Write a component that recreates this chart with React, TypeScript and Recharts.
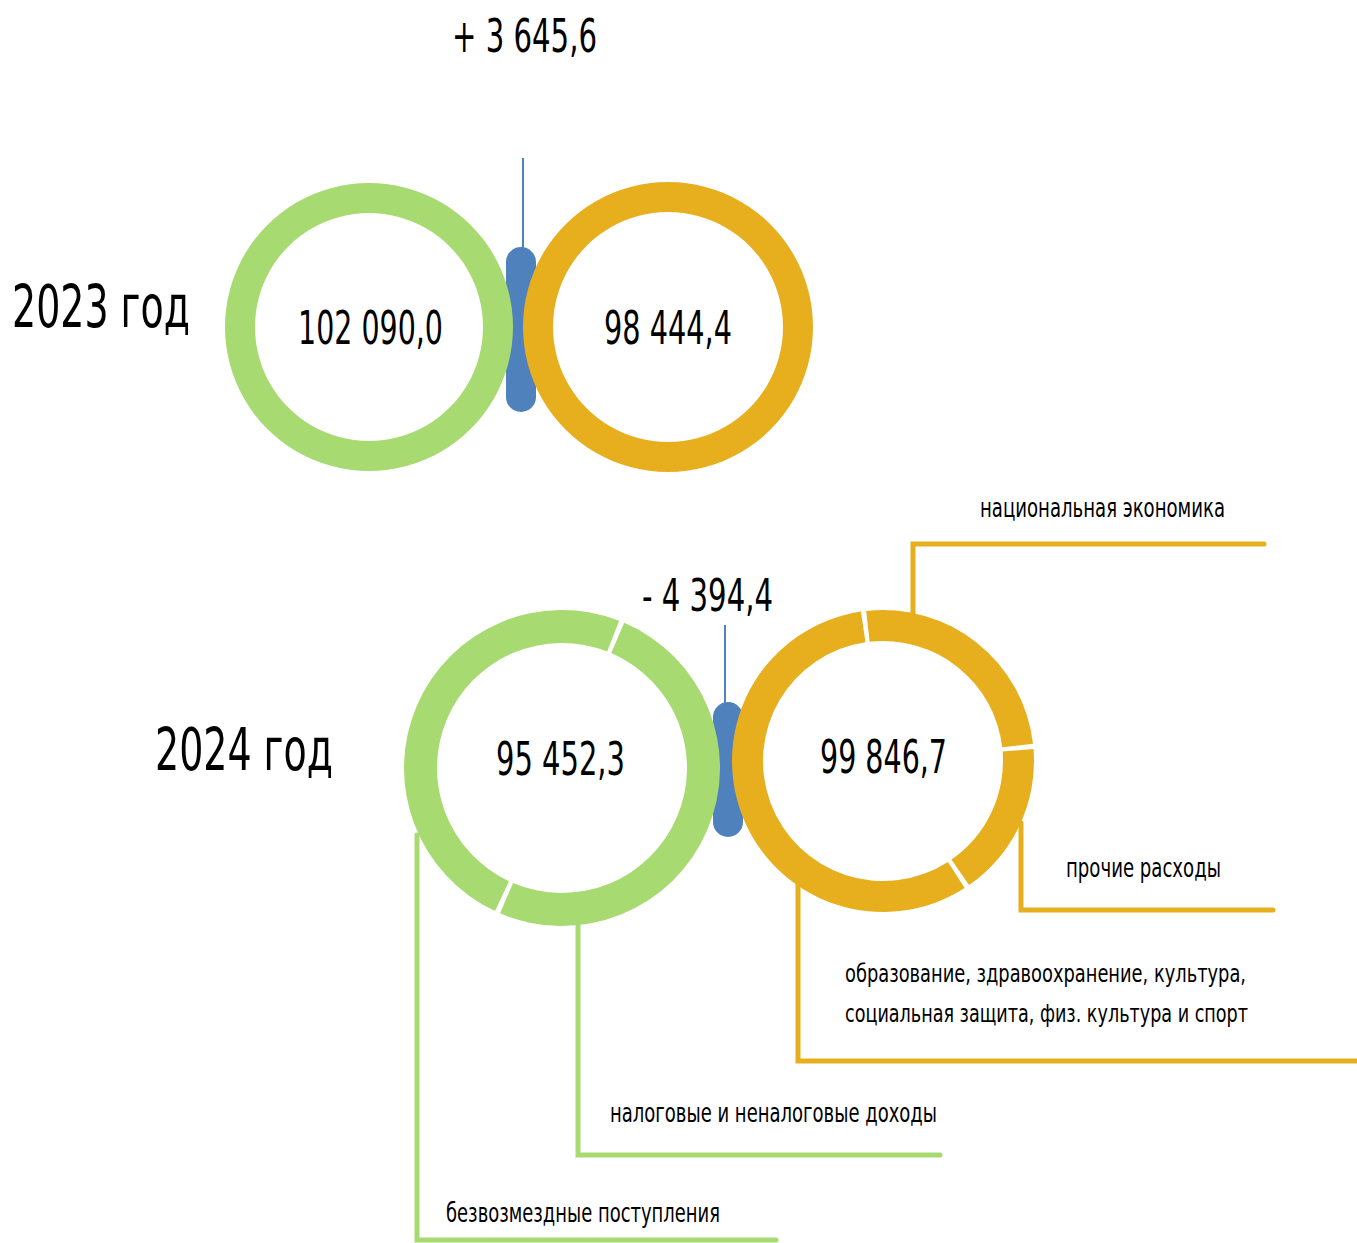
import { PieChart, Pie, Cell } from "recharts";

const W = 1357;
const H = 1243;

const GREEN = "#A8DA72";
const ORANGE = "#E7AF1E";
const BLUE = "#4F81BD";
const FONT = "'Liberation Sans Narrow', 'DejaVu Sans Condensed', 'Liberation Sans', sans-serif";

// data
const years = ["2023 год", "2024 год"];
const income2023 = [{ name: "доходы", value: 102090.0 }];
const expense2023 = [{ name: "расходы", value: 98444.4 }];
const income2024 = [
  { name: "налоговые и неналоговые доходы", value: 48230.0 },
  { name: "безвозмездные поступления", value: 47222.3 },
];
const expense2024 = [
  { name: "национальная экономика", value: 25350.0 },
  { name: "прочие расходы", value: 16860.0 },
  {
    name: "образование, здравоохранение, культура, социальная защита, физ. культура и спорт",
    value: 57636.7,
  },
];

const total = (rows: { value: number }[]) =>
  Math.round(rows.reduce((s, r) => s + r.value, 0) * 10) / 10;
const fmt = (v: number) =>
  v.toLocaleString("ru-RU", { minimumFractionDigits: 1, maximumFractionDigits: 1 });
const fmtDelta = (v: number) => (v >= 0 ? "+ " : "- ") + fmt(Math.abs(v));

// layout
const rings = {
  inc23: { cx: 369, cy: 327, ir: 114, or: 144 },
  exp23: { cx: 668, cy: 327, ir: 115, or: 145 },
  inc24: { cx: 562, cy: 768, ir: 125, or: 158 },
  exp24: { cx: 883, cy: 761, ir: 120, or: 151 },
};
const GAP = 2;
const inc24Start = 22.2; // degrees clockwise from 12 o'clock
const exp24Start = 352.6;

type Label = { lines: string[]; x: number; y: number; w: number[]; size?: number };
const leaders: { color: string; pts: [number, number][]; label: Label }[] = [
  {
    color: ORANGE,
    pts: [[913, 613], [913, 544], [1264, 544]],
    label: { lines: [expense2024[0].name], x: 980, y: 517, w: [245] },
  },
  {
    color: ORANGE,
    pts: [[1021, 823], [1021, 910], [1273, 910]],
    label: { lines: [expense2024[1].name], x: 1066, y: 877, w: [155] },
  },
  {
    color: ORANGE,
    pts: [[798, 883], [798, 1061], [1360, 1061]],
    label: {
      lines: ["образование, здравоохранение, культура,", "социальная защита, физ. культура и спорт"],
      x: 845,
      y: 982,
      w: [401, 403],
      size: 24,
    },
  },
  {
    color: GREEN,
    pts: [[578, 925], [578, 1155], [940, 1155]],
    label: { lines: [income2024[0].name], x: 610, y: 1122, w: [327] },
  },
  {
    color: GREEN,
    pts: [[417, 835], [417, 1240], [776, 1240]],
    label: { lines: [income2024[1].name], x: 446, y: 1222, w: [274] },
  },
];

const pills = [
  { x: 506, y: 247, w: 30, h: 165, lineX: 523, lineTop: 158 },
  { x: 713, y: 702, w: 30, h: 135, lineX: 725, lineTop: 625 },
];

function Txt({
  x, y, size, w, children,
}: { x: number; y: number; size: number; w?: number; children: string }) {
  return (
    <text
      x={x}
      y={y}
      fontSize={size}
      fontFamily={FONT}
      fill="#000"
      textLength={w}
      lengthAdjust="spacingAndGlyphs"
    >
      {children}
    </text>
  );
}

export default function App() {
  const d23 = total(income2023) - total(expense2023);
  const d24 = total(income2024) - total(expense2024);
  const layer = { position: "absolute" as const, left: 0, top: 0 };

  return (
    <div style={{ position: "absolute", left: 0, top: 0, width: W, height: H, overflow: "hidden", background: "#fff" }}>
      {/* blue balance pills behind the rings */}
      <svg width={W} height={H} style={layer}>
        {pills.map((p, i) => (
          <rect key={i} x={p.x} y={p.y} width={p.w} height={p.h} rx={p.w / 2} ry={p.w / 2} fill={BLUE} />
        ))}
      </svg>

      <div style={layer}>
        <PieChart width={W} height={H} margin={{ top: 0, right: 0, bottom: 0, left: 0 }}>
          <Pie
            data={income2023}
            dataKey="value"
            cx={rings.inc23.cx}
            cy={rings.inc23.cy}
            innerRadius={rings.inc23.ir}
            outerRadius={rings.inc23.or}
            startAngle={90}
            endAngle={-270}
            stroke="none"
            fill={GREEN}
            isAnimationActive={false}
          />
          <Pie
            data={expense2023}
            dataKey="value"
            cx={rings.exp23.cx}
            cy={rings.exp23.cy}
            innerRadius={rings.exp23.ir}
            outerRadius={rings.exp23.or}
            startAngle={90}
            endAngle={-270}
            stroke="none"
            fill={ORANGE}
            isAnimationActive={false}
          />
          <Pie
            data={income2024}
            dataKey="value"
            cx={rings.inc24.cx}
            cy={rings.inc24.cy}
            innerRadius={rings.inc24.ir}
            outerRadius={rings.inc24.or}
            startAngle={90 - inc24Start - GAP / 2}
            endAngle={90 - inc24Start - GAP / 2 - 360}
            paddingAngle={GAP}
            stroke="none"
            isAnimationActive={false}
          >
            {income2024.map((r) => (
              <Cell key={r.name} fill={GREEN} />
            ))}
          </Pie>
          <Pie
            data={expense2024}
            dataKey="value"
            cx={rings.exp24.cx}
            cy={rings.exp24.cy}
            innerRadius={rings.exp24.ir}
            outerRadius={rings.exp24.or}
            startAngle={90 - exp24Start - GAP / 2 + 360}
            endAngle={90 - exp24Start - GAP / 2}
            paddingAngle={GAP}
            stroke="none"
            isAnimationActive={false}
          >
            {expense2024.map((r) => (
              <Cell key={r.name} fill={ORANGE} />
            ))}
          </Pie>
        </PieChart>
      </div>

      {/* leader lines and texts */}
      <svg width={W} height={H} style={layer}>
        {pills.map((p, i) => (
          <line key={i} x1={p.lineX} y1={p.lineTop} x2={p.lineX} y2={p.y + 10} stroke={BLUE} strokeWidth={2} />
        ))}
        {leaders.map((l, i) => (
          <g key={i}>
            <polyline
              points={l.pts.map((p) => p.join(",")).join(" ")}
              fill="none"
              stroke={l.color}
              strokeWidth={5}
              strokeLinecap="round"
              strokeLinejoin="miter"
            />
            {l.label.lines.map((t, j) => (
              <Txt key={j} x={l.label.x} y={l.label.y + j * 40} size={l.label.size ?? 27} w={l.label.w[j]}>
                {t}
              </Txt>
            ))}
          </g>
        ))}

        <Txt x={12} y={327} size={58} w={178}>{years[0]}</Txt>
        <Txt x={155} y={770} size={58} w={178}>{years[1]}</Txt>

        <Txt x={452} y={52} size={46} w={145}>{fmtDelta(d23)}</Txt>
        <Txt x={642} y={611} size={44} w={131}>{fmtDelta(d24)}</Txt>

        <Txt x={298} y={344} size={46} w={145}>{fmt(total(income2023))}</Txt>
        <Txt x={604} y={344} size={46} w={128}>{fmt(total(expense2023))}</Txt>
        <Txt x={496} y={775} size={46} w={129}>{fmt(total(income2024))}</Txt>
        <Txt x={820} y={773} size={46} w={127}>{fmt(total(expense2024))}</Txt>
      </svg>
    </div>
  );
}
